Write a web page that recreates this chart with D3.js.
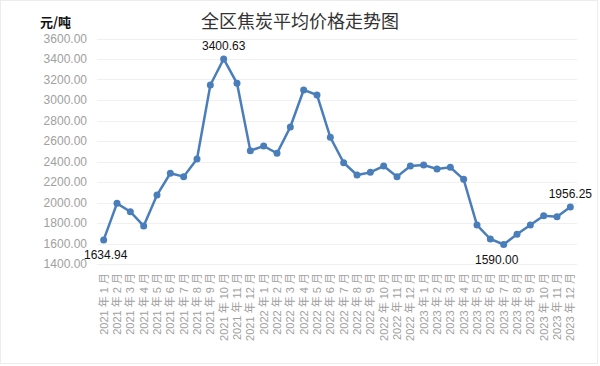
<!DOCTYPE html>
<html><head><meta charset="utf-8">
<script src="https://cdn.jsdelivr.net/npm/d3@7"></script>
<style>body{margin:0;background:#fff}svg{display:block}</style>
</head><body>
<svg id="c" width="600" height="366"></svg>
<script>
const categories = [
 "2021年1月","2021年2月","2021年3月","2021年4月","2021年5月","2021年6月","2021年7月","2021年8月","2021年9月","2021年10月","2021年11月","2021年12月",
 "2022年1月","2022年2月","2022年3月","2022年4月","2022年5月","2022年6月","2022年7月","2022年8月","2022年9月","2022年10月","2022年11月","2022年12月",
 "2023年1月","2023年2月","2023年3月","2023年4月","2023年5月","2023年6月","2023年7月","2023年8月","2023年9月","2023年10月","2023年11月","2023年12月"];
const values = [1634.94,1992,1910,1771,2073,2285,2252,2424,3146,3400.63,3163,2506,
 2551,2480,2737,3098,3049,2636,2388,2268,2294,2356,2252,2356,
 2366,2327,2343,2226,1780,1644,1590.00,1690,1780,1871,1862,1956.25];
const yTicks = [1400,1600,1800,2000,2200,2400,2600,2800,3000,3200,3400,3600];
const labelled = {0:"below",9:"above",30:"below",35:"above"};
const title = "全区焦炭平均价格走势图";
const yUnit = "元/吨";

const svg = d3.select("#c");
svg.append("rect").attr("x",0.5).attr("y",0.5).attr("width",597).attr("height",363)
  .attr("fill","#fff").attr("stroke","#ececec");
const x = d3.scaleBand().domain(categories).range([97,577]);
const y = d3.scaleLinear().domain([1400,3600]).range([264,38.5]);

svg.append("text").attr("x",300).attr("y",28).attr("text-anchor","middle")
  .attr("font-family","'Noto Sans CJK SC',sans-serif").attr("font-size",18).attr("fill","#333").text(title);
svg.append("text").attr("x",40).attr("y",27).attr("font-family","'Noto Sans CJK SC',sans-serif")
  .attr("font-size",13).attr("font-weight","bold").attr("fill","#111").text(yUnit);

const g = svg.append("g");
g.selectAll("line.grid").data(yTicks).join("line").attr("class","grid")
  .attr("x1",97).attr("x2",577).attr("y1",d=>Math.round(y(d))+0.5).attr("y2",d=>Math.round(y(d))+0.5)
  .attr("stroke","#f0f0f0");
const yAxis = d3.axisLeft(y).tickValues(yTicks).tickFormat(d=>d.toFixed(2)).tickSize(0).tickPadding(10);
const ya = svg.append("g").attr("transform","translate(97,0)").call(yAxis);
ya.select(".domain").remove();
ya.selectAll("text").attr("font-family","'Liberation Sans',Arial,sans-serif").attr("font-size",12).attr("fill","#a0a0a0");

const xAxis = d3.axisBottom(x).tickSize(0).tickPadding(0);
const xa = svg.append("g").attr("transform","translate(0,264)").call(xAxis);
xa.select(".domain").remove();
xa.selectAll("text").text(d=>d.replace(/^(\d{4})年(\d+)月$/,"$1 年 $2 月"))
  .attr("font-family","'Liberation Sans','Noto Sans CJK SC',sans-serif").attr("font-size",11).attr("fill","#a0a0a0")
  .attr("transform","rotate(-90)").attr("text-anchor","end").attr("x",-9).attr("y",0).attr("dy","0.35em");

const cx = (d,i)=>x(categories[i])+x.bandwidth()/2;
const line = d3.line().x((d,i)=>cx(d,i)).y(d=>y(d));
svg.append("path").datum(values).attr("d",line).attr("fill","none").attr("stroke","#4a7ebb").attr("stroke-width",2.5);
svg.selectAll("circle.pt").data(values).join("circle").attr("class","pt")
  .attr("cx",(d,i)=>cx(d,i)).attr("cy",d=>y(d)).attr("r",3.5).attr("fill","#4a7ebb");
Object.entries(labelled).forEach(([k,pos])=>{
  const i=+k;
  svg.append("text").attr("x",cx(values[i],i)+(i===30?-7:(i===0?2:0)))
    .attr("y",y(values[i])+(pos==="above"?-9:19)).attr("text-anchor","middle")
    .attr("font-family","'Liberation Sans',Arial,sans-serif").attr("font-size",12).attr("fill","#111")
    .text(values[i].toFixed(2));
});
</script>
</body></html>
